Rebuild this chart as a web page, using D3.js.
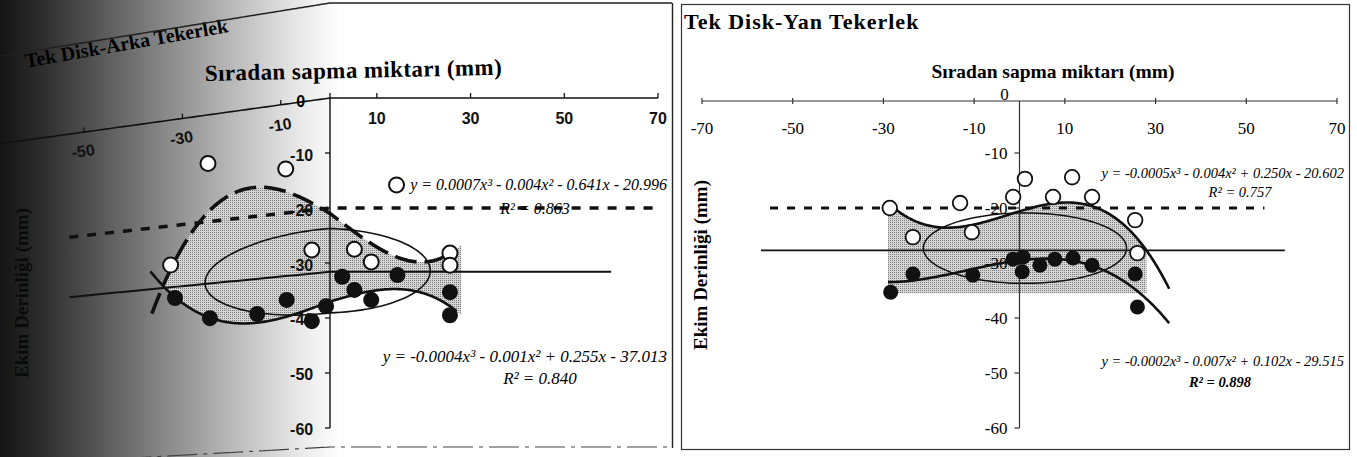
<!DOCTYPE html>
<html><head><meta charset="utf-8">
<script src="https://cdn.jsdelivr.net/npm/d3@7"></script>
<style>html,body{margin:0;padding:0;background:#fff;}svg{display:block}</style>
</head><body>
<svg id="fig" width="1357" height="457"></svg>
<script>
// Rear wheel (left panel): lateral offset from row (mm) vs sowing depth (mm)
const rearOpenX   = [-32.4, -24.8, -9.0, 14.2, -3.7, 5.2, 8.8, 25.6, 25.6];
const rearOpenY   = [-27.4, -9.1, -11.9, -15.8, -27.3, -27.5, -29.8, -28.2, -30.4];
const rearFilledX = [-31.5, -24.4, -14.8, -8.8, -3.7, -0.8, 2.6, 5.2, 8.8, 14.4, 25.6, 25.6];
const rearFilledY = [-33.7, -38.1, -38.1, -36.0, -40.3, -37.8, -32.5, -34.9, -36.7, -32.2, -35.3, -39.5];
// Side wheel (right panel)
const sideOpenX   = [-28.6, -23.5, -13.1, -10.5, -1.4, 1.2, 7.4, 11.6, 16.0, 25.5, 26.0];
const sideOpenY   = [-20.0, -25.3, -19.1, -24.4, -18.0, -14.7, -18.0, -14.4, -18.0, -22.2, -28.2];
const sideFilledX = [-28.4, -23.5, -10.3, -1.4, 0.8, 0.6, 4.5, 7.8, 11.8, 16.0, 25.5, 26.0];
const sideFilledY = [-35.3, -32.0, -32.2, -29.3, -28.9, -31.6, -30.4, -29.3, -29.1, -30.4, -32.0, -38.0];

// Cubic trend coefficients [x^3, x^2, x, 1]
const rearOpenFit   = [0.0007, -0.004, -0.641, -20.996];
const rearFilledFit = [-0.0004, -0.001, 0.255, -37.013];
const sideOpenFit   = [-0.0005, -0.004, 0.250, -20.602];
const sideFilledFit = [-0.0002, -0.007, 0.102, -29.515];

// Axes
const xTicks = [-70, -50, -30, -10, 10, 30, 50, 70];
const yTicks = [-10, -20, -30, -40, -50, -60];
const targetDepth = -20;
const rearMeanDepth = -31.6;
const sideMeanDepth = -27.7;

// Spread ellipses [centre x, centre y, radius x, radius y] in mm
const rearEllipse = [-2.0, -31.4, 23.4, 7.7];
const sideEllipse = [1.2, -27.3, 22.4, 6.4];

// Texts
const rearTitle = "Tek Disk-Arka Tekerlek";
const sideTitle = "Tek Disk-Yan Tekerlek";
const xTitle = "Sıradan sapma miktarı (mm)";
const yTitle = "Ekim Derinliği (mm)";
const rearEq = ["y = 0.0007x³ - 0.004x² - 0.641x - 20.996", "R² = 0.863",
                "y = -0.0004x³ - 0.001x² + 0.255x - 37.013", "R² = 0.840"];
const sideEq = ["y = -0.0005x³ - 0.004x² + 0.250x - 20.602", "R² = 0.757",
                "y = -0.0002x³ - 0.007x² + 0.102x - 29.515", "R² = 0.898"];

const svg = d3.select("#fig");
const defs = svg.append("defs");
const grad = defs.append("linearGradient").attr("id", "curl").attr("x1", 0).attr("x2", 1).attr("y1", 0).attr("y2", 0);
[[0, "#141414"], [0.12, "#2c2c2c"], [0.3, "#595959"], [0.5, "#8c8c8c"], [0.7, "#bdbdbd"], [0.86, "#e4e4e4"], [1, "#ffffff"]]
  .forEach(([o, c]) => grad.append("stop").attr("offset", o).attr("stop-color", c));
const pat = defs.append("pattern").attr("id", "stip").attr("width", 2).attr("height", 2).attr("patternUnits", "userSpaceOnUse");
pat.append("rect").attr("width", 2).attr("height", 2).attr("fill", "#d6d6d6");
pat.append("rect").attr("width", 1).attr("height", 1).attr("fill", "#7a7a7a");
defs.append("clipPath").attr("id", "leftClip").append("rect").attr("x", 0).attr("y", 0).attr("width", 674).attr("height", 457);

const poly = (c, x) => c[0] * x * x * x + c[1] * x * x + c[2] * x + c[3];
const range = (a, b, s) => d3.range(a, b + 1e-9, s);
const yS = d3.scaleLinear([0, -60], [98, 428]);
const serif = "'Liberation Serif','Times New Roman',serif";
const sans = "'Liberation Sans',Arial,sans-serif";

// ---------- left panel: rear wheel (page curls toward the binding) ----------
const xL = d3.scaleLinear([-70, 70], [2, 658]);
function curl(p) {
  const t = Math.max(0, 330 - p[0]);
  return [p[0] - 0.05 * t, p[1] + t * (0.17 - 0.00025 * p[1])];
}
const Lp = (x, y) => curl([xL(x), yS(y)]);
const line = d3.line();
const L = svg.append("g").attr("clip-path", "url(#leftClip)");

L.append("rect").attr("x", 0).attr("y", 0).attr("width", 340).attr("height", 457).attr("fill", "url(#curl)");

// shaded band between the two trends
{
  const xs = range(-34, 28, 0.5);
  const pts = xs.map(x => Lp(x, poly(rearOpenFit, x)))
    .concat(xs.slice().reverse().map(x => Lp(x, poly(rearFilledFit, x))));
  L.append("path").attr("d", line(pts) + "Z").attr("fill", "url(#stip)");
}
// spread ellipse
{
  const [cx, cy, rx, ry] = rearEllipse;
  const pts = range(0, 2 * Math.PI, 0.05).map(a => Lp(cx + rx * Math.cos(a), cy + ry * Math.sin(a)));
  L.append("path").attr("d", line(pts) + "Z").attr("fill", "none").attr("stroke", "#111").attr("stroke-width", 1.6);
}
// top x axis
L.append("path").attr("d", line(range(-75, 70, 1).map(x => Lp(x, 0)))).attr("fill", "none").attr("stroke", "#111").attr("stroke-width", 1.6);
xTicks.concat([0]).forEach(v => {
  const a = Lp(v, 0), b = curl([xL(v), yS(0) - 5]);
  L.append("line").attr("x1", a[0]).attr("y1", a[1]).attr("x2", b[0]).attr("y2", b[1]).attr("stroke", "#111").attr("stroke-width", 1.3);
});
// the -70 label falls beyond the curled page edge
xTicks.filter(v => v > -70).forEach(v => {
  const p = curl([xL(v), 124]);
  const t = Math.max(0, 330 - xL(v));
  const ang = t > 0 ? -9 : 0;
  L.append("text").attr("transform", `translate(${p[0]},${p[1]}) rotate(${ang})`)
    .attr("text-anchor", "middle").attr("font-family", sans).attr("font-size", 16).attr("font-weight", 600).attr("fill", "#111").text(v);
});
{
  const p = curl([xL(0) - 28, 103]);
  L.append("text").attr("x", p[0]).attr("y", p[1]).attr("text-anchor", "middle").attr("font-family", sans).attr("font-size", 16).attr("font-weight", 600).text("0");
}
// vertical axis
L.append("line").attr("x1", xL(0)).attr("x2", xL(0)).attr("y1", yS(0)).attr("y2", yS(-60)).attr("stroke", "#111").attr("stroke-width", 1.4);
yTicks.forEach(v => {
  L.append("line").attr("x1", xL(0) - 5).attr("x2", xL(0)).attr("y1", yS(v)).attr("y2", yS(v)).attr("stroke", "#111").attr("stroke-width", 1.3);
  const p = curl([xL(0) - 16, yS(v) + 6]);
  L.append("text").attr("x", p[0]).attr("y", p[1]).attr("text-anchor", "end").attr("font-family", sans).attr("font-size", 16).attr("font-weight", 600).attr("fill", "#111").text(v);
});
// target depth and mean depth lines
L.append("path").attr("d", line(range(-53, 70, 1).map(x => Lp(x, targetDepth)))).attr("fill", "none")
  .attr("stroke", "#111").attr("stroke-width", 3.5).attr("stroke-dasharray", "9,9");
L.append("path").attr("d", line(range(-53, 60, 1).map(x => Lp(x, rearMeanDepth)))).attr("fill", "none")
  .attr("stroke", "#111").attr("stroke-width", 2);
// trends
L.append("path").attr("d", line(range(-36.2, 27, 0.25).map(x => Lp(x, poly(rearOpenFit, x))))).attr("fill", "none")
  .attr("stroke", "#111").attr("stroke-width", 3.6).attr("stroke-dasharray", "22,8");
L.append("path").attr("d", line(range(-36.5, 27, 0.25).map(x => Lp(x, poly(rearFilledFit, x))))).attr("fill", "none")
  .attr("stroke", "#111").attr("stroke-width", 2.6);
// trend equations
L.append("text").attr("x", 667).attr("y", 190).attr("text-anchor", "end").attr("font-family", serif).attr("font-style", "italic").attr("font-size", 16).text(rearEq[0]);
L.append("text").attr("x", 535).attr("y", 214).attr("text-anchor", "middle").attr("font-family", serif).attr("font-style", "italic").attr("font-size", 16).text(rearEq[1]);
L.append("text").attr("x", 667).attr("y", 362).attr("text-anchor", "end").attr("font-family", serif).attr("font-style", "italic").attr("font-size", 17).text(rearEq[2]);
L.append("text").attr("x", 540).attr("y", 384).attr("text-anchor", "middle").attr("font-family", serif).attr("font-style", "italic").attr("font-size", 17).text(rearEq[3]);
// measurements (drawn over the equations, as in the printed figure)
rearFilledX.forEach((x, i) => {
  const p = Lp(x, rearFilledY[i]);
  L.append("circle").attr("cx", p[0]).attr("cy", p[1]).attr("r", 8).attr("fill", "#111");
});
rearOpenX.forEach((x, i) => {
  const p = Lp(x, rearOpenY[i]);
  L.append("circle").attr("cx", p[0]).attr("cy", p[1]).attr("r", 7.5).attr("fill", "#fff").attr("stroke", "#111").attr("stroke-width", 2);
});
// titles
L.append("text").attr("transform", "translate(229,32) rotate(-10)").attr("text-anchor", "end")
  .attr("font-family", serif).attr("font-weight", "bold").attr("font-size", 20).text(rearTitle);
L.append("text").attr("transform", "translate(205,81) rotate(-1.2)")
  .attr("font-family", serif).attr("font-weight", "bold").attr("font-size", 23).attr("letter-spacing", 0.4).text(xTitle);
L.append("text").attr("transform", "translate(28,293) rotate(-90)").attr("text-anchor", "middle")
  .attr("font-family", serif).attr("font-weight", "bold").attr("font-size", 19).attr("fill", "#0a0a0a").text(yTitle);
// frame
L.append("path").attr("d", line(range(0, 673, 2).map(x => curl([x, 3])))).attr("fill", "none").attr("stroke", "#222").attr("stroke-width", 1.5);
L.append("path").attr("d", line(range(0, 673, 2).map(x => curl([x, 447])))).attr("fill", "none").attr("stroke", "#444").attr("stroke-width", 1.2).attr("stroke-dasharray", "30,6,4,6");
svg.append("line").attr("x1", 672.5).attr("x2", 672.5).attr("y1", 3).attr("y2", 448).attr("stroke", "#222").attr("stroke-width", 1.4);

// ---------- right panel: side wheel ----------
const xR = d3.scaleLinear([-70, 70], [702, 1337]);
const R = svg.append("g");
R.append("rect").attr("x", 681.5).attr("y", 4.5).attr("width", 668).attr("height", 445).attr("fill", "none").attr("stroke", "#333").attr("stroke-width", 1.2);

{
  const xs = range(-29, 28.4, 0.5);
  const area = d3.area().x(x => xR(x)).y0(yS(-35.5)).y1(x => yS(poly(sideOpenFit, x)));
  R.append("path").attr("d", area(xs)).attr("fill", "url(#stip)");
}
{
  const [cx, cy, rx, ry] = sideEllipse;
  const pts = range(0, 2 * Math.PI, 0.05).map(a => [xR(cx + rx * Math.cos(a)), yS(cy + ry * Math.sin(a))]);
  R.append("path").attr("d", line(pts) + "Z").attr("fill", "none").attr("stroke", "#111").attr("stroke-width", 1.5);
}
// top x axis
R.append("line").attr("x1", xR(-70)).attr("x2", xR(70)).attr("y1", 101).attr("y2", 101).attr("stroke", "#333").attr("stroke-width", 1.2);
xTicks.forEach(v => {
  R.append("line").attr("x1", xR(v)).attr("x2", xR(v)).attr("y1", 98).attr("y2", 104).attr("stroke", "#333").attr("stroke-width", 1.2);
  R.append("text").attr("x", xR(v)).attr("y", 134).attr("text-anchor", "middle").attr("font-family", serif).attr("font-size", 17).text(v);
});
R.append("text").attr("x", xR(0) - 15).attr("y", 100).attr("text-anchor", "middle").attr("font-family", serif).attr("font-size", 17).text("0");
// vertical axis
R.append("line").attr("x1", xR(0)).attr("x2", xR(0)).attr("y1", 101).attr("y2", yS(-60)).attr("stroke", "#333").attr("stroke-width", 1.2);
yTicks.forEach(v => {
  R.append("line").attr("x1", xR(0) - 5).attr("x2", xR(0)).attr("y1", yS(v)).attr("y2", yS(v)).attr("stroke", "#333").attr("stroke-width", 1.2);
  R.append("text").attr("x", xR(0) - 12).attr("y", yS(v) + 6).attr("text-anchor", "end").attr("font-family", serif).attr("font-size", 17).text(v);
});
// reference lines
R.append("line").attr("x1", xR(-55)).attr("x2", xR(54)).attr("y1", yS(targetDepth)).attr("y2", yS(targetDepth))
  .attr("stroke", "#111").attr("stroke-width", 3).attr("stroke-dasharray", "8,9");
R.append("line").attr("x1", xR(-57)).attr("x2", xR(58.5)).attr("y1", yS(sideMeanDepth)).attr("y2", yS(sideMeanDepth))
  .attr("stroke", "#111").attr("stroke-width", 1.6);
// trends
R.append("path").attr("d", line(range(-29, 33.2, 0.25).map(x => [xR(x), yS(poly(sideOpenFit, x))]))).attr("fill", "none").attr("stroke", "#111").attr("stroke-width", 2.6);
R.append("path").attr("d", line(range(-29, 33.2, 0.25).map(x => [xR(x), yS(poly(sideFilledFit, x))]))).attr("fill", "none").attr("stroke", "#111").attr("stroke-width", 2.6);
// measurements
sideFilledX.forEach((x, i) => R.append("circle").attr("cx", xR(x)).attr("cy", yS(sideFilledY[i])).attr("r", 7.5).attr("fill", "#111"));
sideOpenX.forEach((x, i) => R.append("circle").attr("cx", xR(x)).attr("cy", yS(sideOpenY[i])).attr("r", 7.3)
  .attr("fill", "#fff").attr("stroke", "#111").attr("stroke-width", 1.8));
// equations
R.append("text").attr("x", 1344).attr("y", 178).attr("text-anchor", "end").attr("font-family", serif).attr("font-style", "italic").attr("font-size", 14.5).text(sideEq[0]);
R.append("text").attr("x", 1240).attr("y", 197).attr("text-anchor", "middle").attr("font-family", serif).attr("font-style", "italic").attr("font-size", 14.5).text(sideEq[1]);
R.append("text").attr("x", 1344).attr("y", 366).attr("text-anchor", "end").attr("font-family", serif).attr("font-style", "italic").attr("font-size", 14.5).text(sideEq[2]);
R.append("text").attr("x", 1220).attr("y", 387).attr("text-anchor", "middle").attr("font-family", serif).attr("font-style", "italic").attr("font-weight", "bold").attr("font-size", 14.5).text(sideEq[3]);
// titles
R.append("text").attr("x", 684).attr("y", 29).attr("font-family", serif).attr("font-weight", "bold").attr("font-size", 22).attr("letter-spacing", 1).text(sideTitle);
R.append("text").attr("x", 1053).attr("y", 78).attr("text-anchor", "middle").attr("font-family", serif).attr("font-weight", "bold").attr("font-size", 19.5).text(xTitle);
R.append("text").attr("transform", "translate(707,265) rotate(-90)").attr("text-anchor", "middle")
  .attr("font-family", serif).attr("font-weight", "bold").attr("font-size", 19).text(yTitle);
</script>
</body></html>
